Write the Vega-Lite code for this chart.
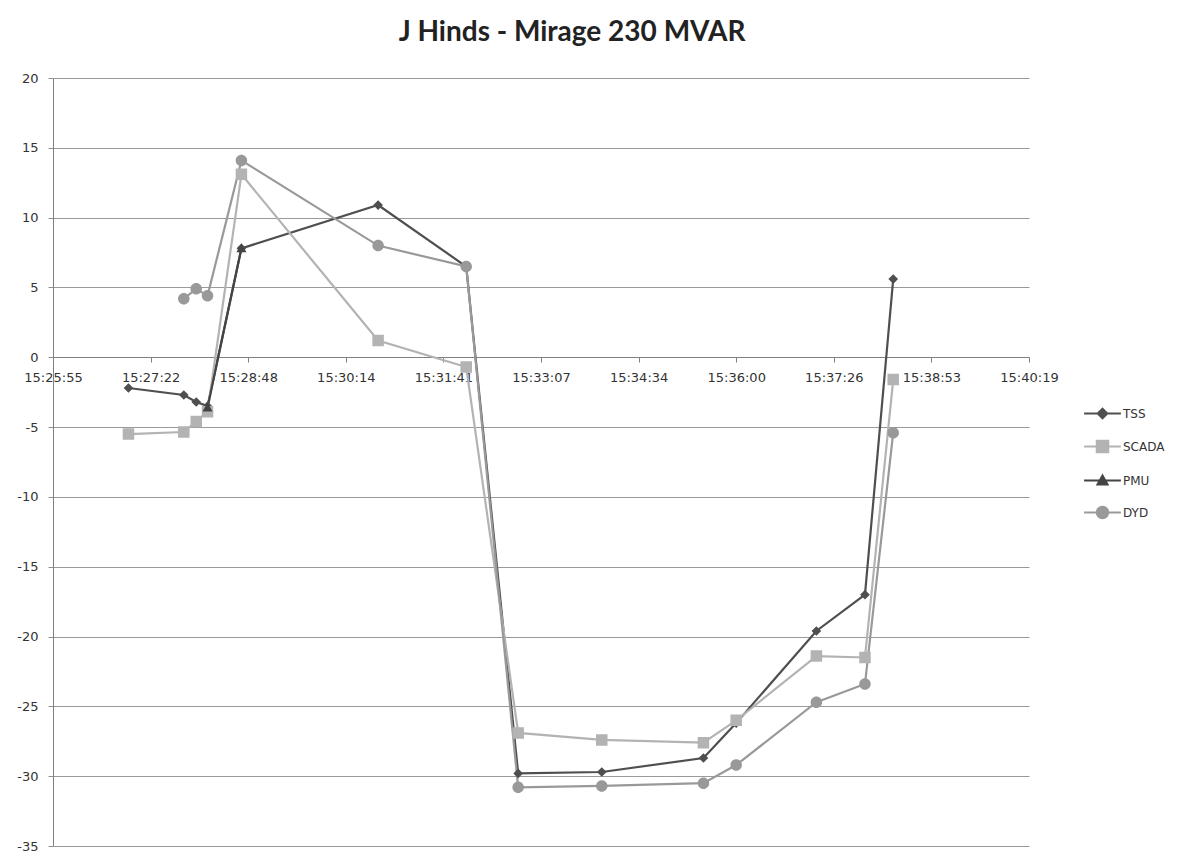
{
  "$schema": "https://vega.github.io/schema/vega-lite/v6.json",
  "width": 976,
  "height": 768,
  "autosize": {"type": "none"},
  "padding": {"left": 53, "top": 78, "right": 164, "bottom": 16},
  "background": "white",
  "title": {
    "text": "J Hinds - Mirage 230 MVAR",
    "font": "Lato",
    "fontSize": 28,
    "fontWeight": "bold",
    "color": "#222222",
    "anchor": "middle",
    "dx": 31,
    "offset": 25
  },
  "data": {
    "values": [
      {"series": "TSS", "time": "2010-01-01T15:27:02", "value": -2.2},
      {"series": "TSS", "time": "2010-01-01T15:27:51", "value": -2.7},
      {"series": "TSS", "time": "2010-01-01T15:28:02", "value": -3.2},
      {"series": "TSS", "time": "2010-01-01T15:28:12", "value": -3.5},
      {"series": "TSS", "time": "2010-01-01T15:28:42", "value": 7.8},
      {"series": "TSS", "time": "2010-01-01T15:30:43", "value": 10.9},
      {"series": "TSS", "time": "2010-01-01T15:32:01", "value": 6.5},
      {"series": "TSS", "time": "2010-01-01T15:32:47", "value": -29.8},
      {"series": "TSS", "time": "2010-01-01T15:34:01", "value": -29.7},
      {"series": "TSS", "time": "2010-01-01T15:35:31", "value": -28.7},
      {"series": "TSS", "time": "2010-01-01T15:36:00", "value": -26.2},
      {"series": "TSS", "time": "2010-01-01T15:37:11", "value": -19.6},
      {"series": "TSS", "time": "2010-01-01T15:37:54", "value": -17.0},
      {"series": "TSS", "time": "2010-01-01T15:38:19", "value": 5.6},
      {"series": "SCADA", "time": "2010-01-01T15:27:02", "value": -5.5},
      {"series": "SCADA", "time": "2010-01-01T15:27:51", "value": -5.35},
      {"series": "SCADA", "time": "2010-01-01T15:28:02", "value": -4.6},
      {"series": "SCADA", "time": "2010-01-01T15:28:12", "value": -3.9},
      {"series": "SCADA", "time": "2010-01-01T15:28:42", "value": 13.1},
      {"series": "SCADA", "time": "2010-01-01T15:30:43", "value": 1.2},
      {"series": "SCADA", "time": "2010-01-01T15:32:01", "value": -0.7},
      {"series": "SCADA", "time": "2010-01-01T15:32:47", "value": -26.9},
      {"series": "SCADA", "time": "2010-01-01T15:34:01", "value": -27.4},
      {"series": "SCADA", "time": "2010-01-01T15:35:31", "value": -27.6},
      {"series": "SCADA", "time": "2010-01-01T15:36:00", "value": -26.0},
      {"series": "SCADA", "time": "2010-01-01T15:37:11", "value": -21.4},
      {"series": "SCADA", "time": "2010-01-01T15:37:54", "value": -21.5},
      {"series": "SCADA", "time": "2010-01-01T15:38:19", "value": -1.6},
      {"series": "PMU", "time": "2010-01-01T15:28:12", "value": -3.6},
      {"series": "PMU", "time": "2010-01-01T15:28:42", "value": 7.8},
      {"series": "DYD", "time": "2010-01-01T15:27:51", "value": 4.2},
      {"series": "DYD", "time": "2010-01-01T15:28:02", "value": 4.9},
      {"series": "DYD", "time": "2010-01-01T15:28:12", "value": 4.4},
      {"series": "DYD", "time": "2010-01-01T15:28:42", "value": 14.1},
      {"series": "DYD", "time": "2010-01-01T15:30:43", "value": 8.0},
      {"series": "DYD", "time": "2010-01-01T15:32:01", "value": 6.5},
      {"series": "DYD", "time": "2010-01-01T15:32:47", "value": -30.8},
      {"series": "DYD", "time": "2010-01-01T15:34:01", "value": -30.7},
      {"series": "DYD", "time": "2010-01-01T15:35:31", "value": -30.5},
      {"series": "DYD", "time": "2010-01-01T15:36:00", "value": -29.2},
      {"series": "DYD", "time": "2010-01-01T15:37:11", "value": -24.7},
      {"series": "DYD", "time": "2010-01-01T15:37:54", "value": -23.4},
      {"series": "DYD", "time": "2010-01-01T15:38:19", "value": -5.4}
    ]
  },
  "encoding": {
    "x": {
      "field": "time",
      "type": "temporal",
      "title": null,
      "scale": {
        "nice": false,
        "domain": [
          {"year": 2010, "month": 1, "date": 1, "hours": 15, "minutes": 25, "seconds": 55, "milliseconds": 200},
          {"year": 2010, "month": 1, "date": 1, "hours": 15, "minutes": 40, "seconds": 19, "milliseconds": 200}
        ]
      },
      "axis": {
        "orient": "bottom",
        "offset": -489,
        "grid": false,
        "values": [
          {"year": 2010, "month": 1, "date": 1, "hours": 15, "minutes": 25, "seconds": 55, "milliseconds": 200},
          {"year": 2010, "month": 1, "date": 1, "hours": 15, "minutes": 27, "seconds": 21, "milliseconds": 600},
          {"year": 2010, "month": 1, "date": 1, "hours": 15, "minutes": 28, "seconds": 48, "milliseconds": 0},
          {"year": 2010, "month": 1, "date": 1, "hours": 15, "minutes": 30, "seconds": 14, "milliseconds": 400},
          {"year": 2010, "month": 1, "date": 1, "hours": 15, "minutes": 31, "seconds": 40, "milliseconds": 800},
          {"year": 2010, "month": 1, "date": 1, "hours": 15, "minutes": 33, "seconds": 7, "milliseconds": 200},
          {"year": 2010, "month": 1, "date": 1, "hours": 15, "minutes": 34, "seconds": 33, "milliseconds": 600},
          {"year": 2010, "month": 1, "date": 1, "hours": 15, "minutes": 36, "seconds": 0, "milliseconds": 0},
          {"year": 2010, "month": 1, "date": 1, "hours": 15, "minutes": 37, "seconds": 26, "milliseconds": 400},
          {"year": 2010, "month": 1, "date": 1, "hours": 15, "minutes": 38, "seconds": 52, "milliseconds": 800},
          {"year": 2010, "month": 1, "date": 1, "hours": 15, "minutes": 40, "seconds": 19, "milliseconds": 200}
        ],
        "labelExpr": "timeFormat(time(datum.value) + 500, '%H:%M:%S')",
        "labelFont": "DejaVu Sans",
        "labelFontSize": 13,
        "labelColor": "#333333",
        "labelPadding": 9,
        "labelFlush": false,
        "labelOverlap": false,
        "tickSize": 5,
        "tickColor": "#808080",
        "domainColor": "#808080",
        "domainWidth": 1
      }
    },
    "y": {
      "field": "value",
      "type": "quantitative",
      "title": null,
      "scale": {"domain": [-35, 20], "nice": false, "zero": false},
      "axis": {
        "values": [-35, -30, -25, -20, -15, -10, -5, 0, 5, 10, 15, 20],
        "labelExpr": "'' + datum.value",
        "labelFont": "DejaVu Sans",
        "labelFontSize": 13,
        "labelColor": "#333333",
        "labelPadding": 10,
        "tickSize": 5,
        "tickColor": "#909090",
        "domainColor": "#808080",
        "grid": true,
        "gridColor": "#9a9a9a",
        "gridWidth": 1
      }
    },
    "color": {
      "field": "series",
      "type": "nominal",
      "scale": {
        "domain": ["TSS", "SCADA", "PMU", "DYD"],
        "range": ["#4f4f4f", "#b3b3b3", "#444444", "#999999"]
      },
      "legend": {
        "orient": "none",
        "legendX": 1037,
        "legendY": 323,
        "title": null,
        "labelFont": "DejaVu Sans",
        "labelFontSize": 12,
        "labelColor": "#333333",
        "labelOffset": 8,
        "rowPadding": 11,
        "symbolSize": 529,
        "symbolStrokeWidth": 2
      }
    }
  },
  "layer": [
    {
      "mark": {"type": "line", "strokeWidth": 2.2},
      "encoding": {}
    },
    {
      "mark": {"type": "point", "filled": true, "opacity": 1, "size": 529},
      "encoding": {
        "shape": {
          "field": "series",
          "type": "nominal",
          "scale": {
            "domain": ["TSS", "SCADA", "PMU", "DYD"],
            "range": [
              "M-1.6,0H1.6M0,-0.42L0.42,0L0,0.42L-0.42,0Z",
              "M-1.6,0H1.6M-0.5,-0.5H0.5V0.5H-0.5Z",
              "M-1.6,0H1.6M0,-0.44L0.44,0.34H-0.44Z",
              "M-1.6,0H1.6M0.5,0A0.5,0.5,0,1,1,-0.5,0A0.5,0.5,0,1,1,0.5,0Z"
            ]
          }
        }
      }
    }
  ],
  "config": {
    "view": {"stroke": null},
    "font": "DejaVu Sans"
  }
}
